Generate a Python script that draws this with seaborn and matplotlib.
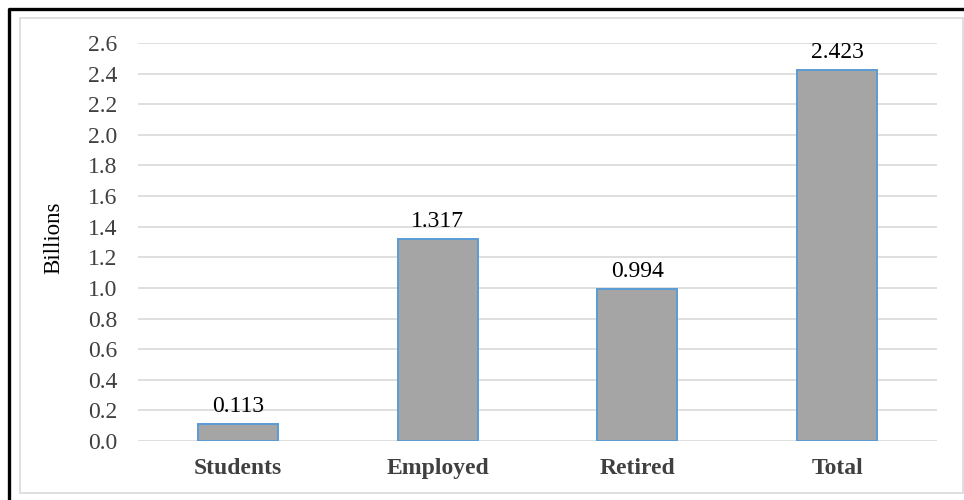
import matplotlib
matplotlib.use("Agg")
import matplotlib.pyplot as plt
import seaborn as sns
from matplotlib.lines import Line2D
from matplotlib.patches import Rectangle

# data
categories = ["Students", "Employed", "Retired", "Total"]
values = [0.113, 1.317, 0.994, 2.423]
labels = ["0.113", "1.317", "0.994", "2.423"]
yticks = [0.0, 0.2, 0.4, 0.6, 0.8, 1.0, 1.2, 1.4, 1.6, 1.8, 2.0, 2.2, 2.4, 2.6]

sns.set_style("white")
plt.rcParams["font.family"] = ["Liberation Serif", "DejaVu Serif"]

W, H = 964, 500
fig = plt.figure(figsize=(W / 100, H / 100), dpi=100)
ax = fig.add_axes([138 / W, 59 / H, (937 - 138) / W, (441 - 43) / H])

sns.barplot(x=categories, y=values, width=0.4, color="#A5A5A5",
            edgecolor="#5B9BD5", linewidth=1.4, saturation=1, ax=ax)

ax.set_ylim(0, 2.6)
ax.set_yticks(yticks)
ax.set_yticklabels([f"{t:.1f}" for t in yticks])
ax.yaxis.grid(True, color="#D9D9D9", linewidth=1.2)
ax.set_axisbelow(True)
for s in ax.spines.values():
    s.set_visible(False)
ax.tick_params(axis="y", length=0, pad=15, labelsize=17, labelcolor="#404040")
ax.tick_params(axis="x", length=0, pad=12, labelsize=17, labelcolor="#404040")
for t in ax.get_xticklabels():
    t.set_fontweight("bold")
ax.set_xlabel("")
ax.set_ylabel("Billions", fontsize=16.5, color="black")
ax.yaxis.set_label_coords(-(138 - 64) / (937 - 138), 0.51)

for i, (v, lab) in enumerate(zip(values, labels)):
    ax.annotate(lab, (i, v), xytext=(0, 5), textcoords="offset points",
                ha="center", va="bottom", fontsize=17, color="black",
                annotation_clip=False)

# frames around the chart
fig.patches.append(Rectangle((20 / W, 7 / H), (963 - 20) / W, (482 - 7) / H,
                             transform=fig.transFigure, fill=False,
                             edgecolor="#D9D9D9", linewidth=1.2))
fig.lines.append(Line2D([8.5 / W, 8.5 / W, 1.0], [0.0, 1 - 8.5 / H, 1 - 8.5 / H],
                        transform=fig.transFigure, color="black", linewidth=2.4))

fig.savefig("out.png", dpi=100)
